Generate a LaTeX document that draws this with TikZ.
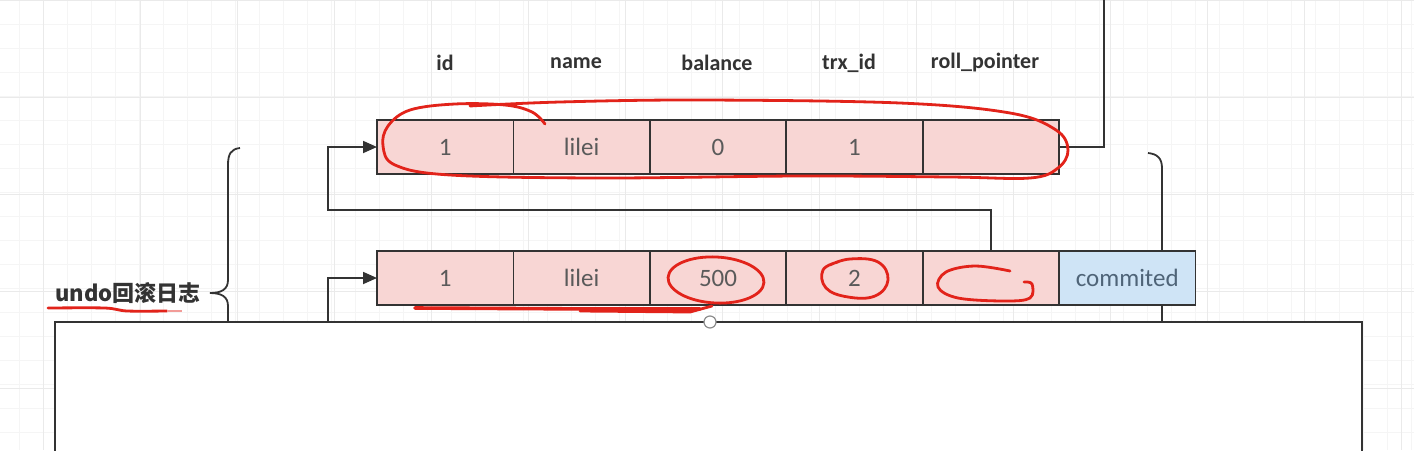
\documentclass[tikz,border=0pt]{standalone}
\usepackage{fontspec}
\setmainfont{Carlito}
\newfontfamily\cjk{Noto Sans CJK SC}
\usetikzlibrary{arrows.meta}
\definecolor{cellpink}{HTML}{F8D6D4}
\definecolor{cellblue}{HTML}{CFE4F6}
\definecolor{lineg}{HTML}{333333}
\definecolor{gridminor}{HTML}{F5F5F5}
\definecolor{gridmajor}{HTML}{EAEAEA}
\definecolor{redink}{HTML}{E2231A}
\definecolor{celltext}{HTML}{5A5A5A}
\definecolor{bluetext}{HTML}{4F6478}
\begin{document}
\begin{tikzpicture}[x=0.5pt,y=-0.5pt,
  cell/.style={draw=lineg, line width=0.9pt, fill=cellpink, minimum width=68.2pt,
    minimum height=27pt, inner sep=0pt, outer sep=0pt, anchor=north west,
    text=celltext, font=\fontsize{12.5}{14}\selectfont},
  bluecell/.style={cell, fill=cellblue, text=bluetext},
  head/.style={font=\fontsize{11}{13}\selectfont\bfseries, text=lineg},
  conn/.style={draw=lineg, line width=0.9pt},
  arr/.style={conn, -{Triangle[length=7pt,width=6pt]}},
  ink/.style={draw=redink, line width=1.4pt, line cap=round, line join=round}]
\useasboundingbox (0,0) rectangle (1414,450);
\fill[white] (0,0) rectangle (1414,450);
% grid
\foreach \x in {19,43,...,1414} \draw[gridminor, line width=0.4pt] (\x,0) -- (\x,450);
\foreach \y in {0,24,...,450} \draw[gridminor, line width=0.4pt] (0,\y) -- (1414,\y);
\foreach \x in {43,140,...,1414} \draw[gridmajor, line width=0.5pt] (\x,0) -- (\x,450);
\foreach \y in {0,97,...,450} \draw[gridmajor, line width=0.5pt] (0,\y) -- (1414,\y);

% headers
\node[head] (h1) at (445,63) {id};
\node[head] (h2) at (576,63) {name};
\node[head] (h3) at (717,63) {balance};
\node[head] (h4) at (849,63) {trx\_id};
\node[head] (h5) at (985,63) {roll\_pointer};

% braces (behind the cells)
\draw[conn] (240,148) .. controls (231,149) and (228,154) .. (228,165) -- (228,280)
  .. controls (228,289) and (222,293) .. (210,293)
  .. controls (222,293) and (228,297) .. (228,306) -- (228,322);
\draw[conn] (1148,153) .. controls (1157,154) and (1162,158) .. (1162,168) -- (1162,322);

% top row
\node[cell] (a1) at (377,120) {1};
\node[cell] (a2) at (a1.north east) {lilei};
\node[cell] (a3) at (a2.north east) {0};
\node[cell] (a4) at (a3.north east) {1};
\node[cell] (a5) at (a4.north east) {};

% bottom row
\node[cell] (b1) at (377,251) {1};
\node[cell] (b2) at (b1.north east) {lilei};
\node[cell] (b3) at (b2.north east) {500};
\node[cell] (b4) at (b3.north east) {2};
\node[cell] (b5) at (b4.north east) {};
\node[bluecell] (b6) at (b5.north east) {commited};

% label
\node[font=\cjk\bfseries\fontsize{11}{13}\selectfont, text=lineg] (lbl) at (128,293) {undo回滚日志};

% big box
\coordinate (k1) at (328,210);
\coordinate (k2) at (328,322);
\coordinate (k3) at (1104,0);
\fill[white] (55,322) rectangle (1362,452);
\draw[conn] (55,452) -- (55,322) -- (1362,322) -- (1362,452);
\draw[lineg, line width=1.3pt] (55,322) -- (1362,322);

% connectors
\draw[arr] (b5.north) |- (k1) |- (a1.west);
\draw[arr] (k2) |- (b1.west);
\draw[conn] (a5.east) -| (k3);
\node[circle, draw=black!45, fill=white, line width=0.6pt, minimum size=6pt, inner sep=0pt] (hdl) at (710,322) {};

% red annotations
\draw[ink] plot[smooth, tension=0.6] coordinates {(545,124) (532,112) (505,105) (455,104) (410,110) (388,126) (383,146) (395,165) (450,175) (600,178) (800,176) (950,177) (1030,178) (1058,168) (1068,150) (1056,130) (1010,113) (900,103) (700,100) (560,102) (470,106)};
\draw[ink, rotate around={-3:(716,280)}] (716,280) ellipse [x radius=48, y radius=23];
\draw[ink] plot[smooth, tension=0.7] coordinates {(830,265) (850,259) (878,262) (888,280) (875,296) (848,297) (826,288) (823,270) (838,262)};
\draw[ink] plot[smooth, tension=0.6] coordinates {(1010,271) (975,266) (946,272) (938,287) (958,298) (1005,301) (1030,298) (1032,284) (1024,282)};
\draw[ink, line width=1.8pt] (415,308) -- (600,309) -- (700,309);
\draw[ink, line width=1.4pt] (580,311) -- (690,312) -- (712,306);
\draw[ink] plot[smooth] coordinates {(48,308) (105,308) (127,311) (167,311)};
\draw[redink!45, line width=1.4pt] (167,311) -- (182,311);
\end{tikzpicture}
\end{document}
